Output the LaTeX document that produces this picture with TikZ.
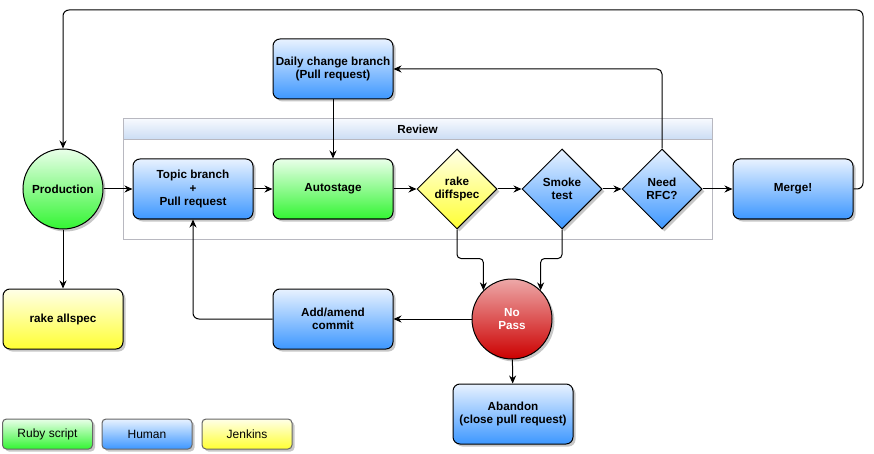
\documentclass[tikz,border=0pt]{standalone}
\usepackage{fontspec}
\setmainfont{Liberation Sans}
\usepackage{tikz}
\usetikzlibrary{shapes.geometric}
\usetikzlibrary{shadows}
\usetikzlibrary{arrows.meta}

\definecolor{rubytop}{HTML}{E9FFE9}
\definecolor{rubybot}{HTML}{33F533}
\definecolor{humantop}{HTML}{E8F2FF}
\definecolor{humanbot}{HTML}{3D97FF}
\definecolor{jenkinstop}{HTML}{FFFFE8}
\definecolor{jenkinsbot}{HTML}{FFFF33}
\definecolor{failtop}{HTML}{EDA8A8}
\definecolor{failbot}{HTML}{CC0000}
\definecolor{groupline}{HTML}{B8B8C0}
\definecolor{headtop}{HTML}{F6F9FE}
\definecolor{headbot}{HTML}{CADCF4}

\begin{document}
\begin{tikzpicture}[x=1pt,y=-1pt,
    every node/.style={font=\bfseries\fontsize{11.7}{13.5}\selectfont, align=center, line width=1pt},
    flat/.style={draw, drop shadow={shadow xshift=2.5pt, shadow yshift=-2.5pt, opacity=0.22, fill=black}},
    task/.style={flat, rounded corners=7pt, minimum width=120pt, minimum height=60pt, inner sep=2pt},
    check/.style={flat, diamond, minimum size=80pt, inner sep=0pt},
    state/.style={flat, circle, minimum size=80pt, inner sep=0pt},
    key/.style={flat, draw=black!60, rounded corners=4pt, minimum width=90pt, minimum height=30pt, inner sep=0pt, font=\fontsize{12}{14}\selectfont},
    ruby/.style={top color=rubytop, bottom color=rubybot},
    human/.style={top color=humantop, bottom color=humanbot},
    jenkins/.style={top color=jenkinstop, bottom color=jenkinsbot},
    fail/.style={top color=failtop, bottom color=failbot, text=white},
    edge/.style={-{Stealth[length=8pt,width=7pt]}, line width=1pt}]
    \useasboundingbox (0,0) rectangle (874,454);

    \node[draw=groupline, minimum width=589pt, minimum height=120pt, inner sep=0pt] (review) at (417.5,179) {};
    \node[draw=groupline, top color=headtop, bottom color=headbot, minimum width=589pt, minimum height=21pt, inner sep=0pt] (reviewhead) at (417.5,129.5) {Review};

    \node[state, ruby] (prod) at (63,189) {Production};
    \node[task, jenkins] (allspec) at (63,319) {rake allspec};
    \node[task, human] (topic) at (193,189) {Topic branch\\+\\Pull request};
    \node[task, ruby] (auto) at (333,189) {Autostage};
    \node[task, human] (daily) at (333,69) {Daily change branch\\(Pull request)};
    \node[check, jenkins] (diff) at (457,189) {rake\\diffspec};
    \node[check, human] (smoke) at (562,189) {Smoke\\test};
    \node[check, human] (rfc) at (662,189) {Need\\RFC?};
    \node[task, human] (merge) at (793,189) {Merge!};
    \node[state, fail] (nopass) at (512,319) {No\\Pass};
    \node[task, human] (add) at (333,319) {Add/amend\\commit};
    \node[task, human] (abandon) at (513,414) {Abandon\\(close pull request)};

    \node[key, ruby] (keyruby) at (47.5,434) {Ruby script};
    \node[key, human] (keyhuman) at (147,434) {Human};
    \node[key, jenkins] (keyjenkins) at (247,434) {Jenkins};

    \coordinate (loop) at (863,10);

    \draw[edge] (prod) -- (topic);
    \draw[edge] (prod) -- (allspec);
    \draw[edge] (topic) -- (auto);
    \draw[edge] (auto) -- (diff);
    \draw[edge] (diff) -- (smoke);
    \draw[edge] (smoke) -- (rfc);
    \draw[edge] (rfc) -- (merge);
    \draw[edge, rounded corners=5pt] (rfc.north) |- (daily.east);
    \draw[edge] (daily) -- (auto);
    \draw[edge, rounded corners=6pt] (merge.east) -| (loop) -| (prod.north);
    \draw[edge, rounded corners=4pt] (diff.south) -- ++(0,29) -| (nopass.north west);
    \draw[edge, rounded corners=4pt] (smoke.south) -- ++(0,29) -| (nopass.north east);
    \draw[edge] (nopass) -- (add);
    \draw[edge, rounded corners=6pt] (add.west) -| (topic.south);
    \draw[edge] (nopass) -- (abandon);
\end{tikzpicture}
\end{document}
